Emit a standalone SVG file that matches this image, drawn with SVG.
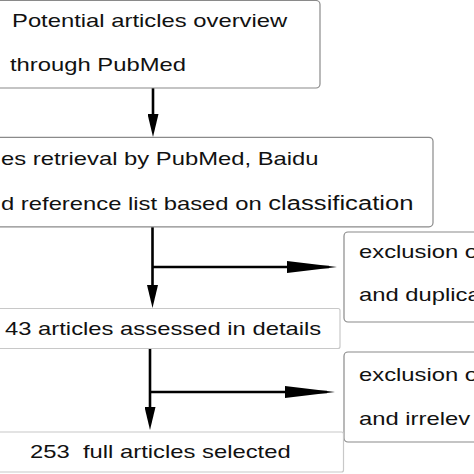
<svg xmlns="http://www.w3.org/2000/svg" width="474" height="474" viewBox="0 0 474 474">
<style>
.box{fill:#fff;stroke:#8a8a8a;stroke-width:1.2}
.lbox{fill:#fff;stroke:#c8c8c8;stroke-width:1.2}
.t{font-family:"Liberation Sans",Arial,sans-serif;font-size:18.6px;fill:#111;white-space:pre}
.big{font-size:20px}
.c{stroke:#000;stroke-width:2.6;fill:none}
</style>
<defs>
<marker id="av" markerUnits="userSpaceOnUse" markerWidth="23" markerHeight="11" refX="15" refY="5.5" orient="auto">
<path d="M0,0 L23,5.5 L0,11 z" fill="#000"/>
</marker>
<marker id="ah" markerUnits="userSpaceOnUse" markerWidth="50" markerHeight="12" refX="42" refY="6" orient="auto">
<path d="M0,0 L50,6 L0,12 z" fill="#000"/>
</marker>
</defs>
<rect width="474" height="474" fill="#fff"/>
<g id="connectors">
<path class="c" d="M153,88 V129" marker-end="url(#av)"/>
<path class="c" d="M152.5,227 V300" marker-end="url(#av)"/>
<path class="c" d="M152.5,267 H329" marker-end="url(#ah)"/>
<path class="c" d="M150,348.5 V422" marker-end="url(#av)"/>
<path class="c" d="M150,392 H327" marker-end="url(#ah)"/>
</g>
<g id="n1">
<rect class="box" x="-10" y="0.5" width="330" height="87.5" rx="4"/>
<text class="t" transform="translate(12 27) scale(1.28 1)">Potential articles overview</text>
<text class="t" transform="translate(10 71) scale(1.28 1)">through PubMed</text>
</g>
<g id="n2">
<rect class="box" x="-10" y="137.3" width="443" height="89.5" rx="4"/>
<text class="t" transform="translate(1 165) scale(1.28 1)">es retrieval by PubMed, Baidu</text>
<text class="t" transform="translate(1 210) scale(1.28 1)">d reference list based on <tspan class="big">classification</tspan></text>
</g>
<g id="n3">
<rect class="box" x="344" y="232" width="150" height="90" rx="4"/>
<text class="t" transform="translate(359 258) scale(1.28 1)">exclusion o</text>
<text class="t" transform="translate(359 301) scale(1.28 1)">and duplica</text>
</g>
<g id="n4">
<rect class="lbox" x="-10" y="308.5" width="350" height="40" rx="2"/>
<text class="t" transform="translate(5 335) scale(1.28 1)">43 articles assessed in details</text>
</g>
<g id="n5">
<rect class="box" x="344" y="352" width="150" height="90" rx="4"/>
<text class="t" transform="translate(359 381) scale(1.28 1)">exclusion o</text>
<text class="t" transform="translate(359 425) scale(1.28 1)">and irrelev</text>
</g>
<g id="n6">
<rect class="lbox" x="-10" y="432" width="353.5" height="40" rx="2"/>
<text class="t" transform="translate(30 458) scale(1.28 1)">253  full articles selected</text>
</g>
</svg>
